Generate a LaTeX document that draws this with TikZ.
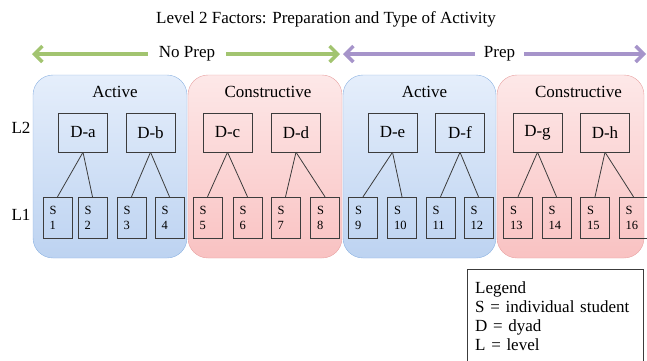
\documentclass[tikz,border=0pt]{standalone}
\usepackage{fontspec}
\setmainfont{Liberation Serif}
\usetikzlibrary{arrows.meta}

\definecolor{activetop}{RGB}{229,238,251}
\definecolor{activebot}{RGB}{189,211,241}
\definecolor{activeline}{RGB}{141,179,226}
\definecolor{constrtop}{RGB}{253,232,232}
\definecolor{constrbot}{RGB}{249,194,194}
\definecolor{constrline}{RGB}{232,162,162}
\definecolor{noprepgreen}{RGB}{162,196,112}
\definecolor{prepviolet}{RGB}{166,148,202}
\definecolor{boxline}{RGB}{60,60,60}

\tikzset{
  panel/.style={rounded corners=20pt, minimum width=154pt, minimum height=183pt,
                inner sep=0pt},
  activepanel/.style={panel, draw=activeline, top color=activetop, bottom color=activebot},
  constrpanel/.style={panel, draw=constrline, top color=constrtop, bottom color=constrbot},
  dbox/.style={draw=boxline, minimum width=49pt, minimum height=39pt, inner sep=0pt},
  sbox/.style={draw=boxline, minimum height=41pt, text width=16pt, inner xsep=6.5pt,
               inner ysep=0pt, align=left, font=\fontsize{12.5}{15}\selectfont},
  factorarrow/.style={line width=3.5pt, {Straight Barb[length=8pt,width=16pt]}-},
  tie/.style={draw=boxline, line width=0.8pt}
}

\begin{document}
\begin{tikzpicture}[x=1pt, y=-1pt, font=\fontsize{17}{19}\selectfont]
  \useasboundingbox (0,0) rectangle (647,360);

  % title
  \node (title) at (326,19) {Level 2 Factors: Preparation and Type of Activity};

  % preparation factor
  \node[inner xsep=11pt] (noprep) at (187,54) {No Prep};
  \coordinate (npleft) at (32,54);
  \coordinate (npright) at (340,54);
  \draw[factorarrow, noprepgreen] (npleft) -- (noprep.west);
  \draw[factorarrow, noprepgreen] (npright) -- (noprep.east);
  \node[inner xsep=9pt] (prep) at (499.5,54) {Prep};
  \coordinate (pleft) at (343,54);
  \coordinate (pright) at (646,54);
  \draw[factorarrow, prepviolet] (pleft) -- (prep.west);
  \draw[factorarrow, prepviolet] (pright) -- (prep.east);

  % activity type panels
  \node[activepanel] (act1) at (110,166.5) {};
  \node[constrpanel] (con1) at (265,166.5) {};
  \node[activepanel, minimum width=153pt] (act2) at (419.5,166.5) {};
  \node[constrpanel, minimum width=147pt] (con2) at (570.5,166.5) {};
  \node (act1lbl) at (115,92) {Active};
  \node (con1lbl) at (268,92) {Constructive};
  \node (act2lbl) at (424.5,92) {Active};
  \node (con2lbl) at (578.5,92) {Constructive};

  % levels
  \node (ltwo) at (21,128) {L2};
  \node (lone) at (21,215) {L1};

  % dyads
  \node[dbox] (Da) at (83,132.5) {D-a};
  \node[dbox] (Db) at (150.5,132.5) {D-b};
  \node[dbox] (Dc) at (227.5,132.5) {D-c};
  \node[dbox] (Dd) at (296,132.5) {D-d};
  \node[dbox] (De) at (392.5,132.5) {D-e};
  \node[dbox] (Df) at (460,132.5) {D-f};
  \node[dbox] (Dg) at (537.5,132.5) {D-g};
  \node[dbox] (Dh) at (605,132.5) {D-h};

  % students
  \node[sbox] (S1) at (57.5,217.5) {S\\1};
  \node[sbox] (S2) at (92.5,217.5) {S\\2};
  \node[sbox] (S3) at (131.5,217.5) {S\\3};
  \node[sbox] (S4) at (169.5,217.5) {S\\4};
  \node[sbox] (S5) at (207.5,217.5) {S\\5};
  \node[sbox] (S6) at (247.5,217.5) {S\\6};
  \node[sbox] (S7) at (285.5,217.5) {S\\7};
  \node[sbox] (S8) at (325,217.5) {S\\8};
  \node[sbox] (S9) at (363,217.5) {S\\9};
  \node[sbox] (S10) at (402,217.5) {S\\10};
  \node[sbox] (S11) at (440.5,217.5) {S\\11};
  \node[sbox] (S12) at (478.5,217.5) {S\\12};
  \node[sbox] (S13) at (518,217.5) {S\\13};
  \node[sbox] (S14) at (556.5,217.5) {S\\14};
  \node[sbox] (S15) at (595,217.5) {S\\15};
  \node[sbox] (S16) at (633.5,217.5) {S\\16};

  \draw[tie] (Da.south) -- (S1.north);
  \draw[tie] (Da.south) -- (S2.north);
  \draw[tie] (Db.south) -- (S3.north);
  \draw[tie] (Db.south) -- (S4.north);
  \draw[tie] (Dc.south) -- (S5.north);
  \draw[tie] (Dc.south) -- (S6.north);
  \draw[tie] (Dd.south) -- (S7.north);
  \draw[tie] (Dd.south) -- (S8.north);
  \draw[tie] (De.south) -- (S9.north);
  \draw[tie] (De.south) -- (S10.north);
  \draw[tie] (Df.south) -- (S11.north);
  \draw[tie] (Df.south) -- (S12.north);
  \draw[tie] (Dg.south) -- (S13.north);
  \draw[tie] (Dg.south) -- (S14.north);
  \draw[tie] (Dh.south) -- (S15.north);
  \draw[tie] (Dh.south) -- (S16.north);

  % legend
  \node[draw=boxline, anchor=north west, align=left, text width=160pt,
        inner xsep=8pt, inner ysep=5pt, minimum height=93pt] (legend) at (467,269)
       {Legend\\S = individual student\\D = dyad\\L = level};
\end{tikzpicture}
\end{document}
